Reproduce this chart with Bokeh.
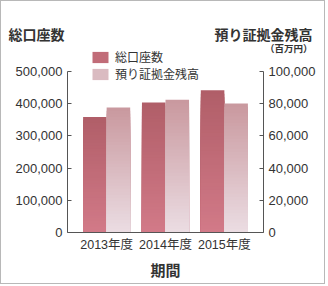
from bokeh.plotting import figure
from bokeh.models import (Range1d, LinearAxis, NumeralTickFormatter, FixedTicker,
                          Label, Legend, LegendItem, ColumnDataSource)
from bokeh.embed import file_html
from bokeh.resources import INLINE

# ---- data ----
periods = ["2013年度", "2014年度", "2015年度"]
accounts = [359000, 404000, 442000]          # 総口座数 (left axis)
margin_balance = [77600, 82400, 80100]       # 預り証拠金残高 (百万円, right axis)
left_ticks = [0, 100000, 200000, 300000, 400000, 500000]
right_ticks = [0, 20000, 40000, 60000, 80000, 100000]
positions = [1, 2, 3]

# ---- layout constants (page pixels) ----
BORDER = 1
W, H = 325, 284
X0, X1 = 0.335, 3.665          # data x at the two value axes
AXL, AXR = 67, 263             # page x of left / right value axes
AXT, AXB = 71, 232             # page y of top tick / zero line
CL, CR = BORDER, BORDER + W    # canvas extent in page pixels
CT, CB = BORDER, BORDER + H
NSEG = 40

def px_x(px):
    return X0 + (px - AXL) / (AXR - AXL) * (X1 - X0)

def px_y(py, top=None):
    top = left_ticks[-1] if top is None else top
    return (AXB - py) / (AXB - AXT) * top

def hex2rgb(h):
    h = h.lstrip("#")
    return [int(h[i:i + 2], 16) for i in (0, 2, 4)]

def mix(c0, c1, t):
    a, b = hex2rgb(c0), hex2rgb(c1)
    return "#%02x%02x%02x" % tuple(int(round(a[i] + (b[i] - a[i]) * t)) for i in range(3))

def gradient(xs, vals, bottom_col, top_col, n=NSEG):
    # overlapping rects, tallest first, so no seams appear
    d = dict(x=[], top=[], color=[])
    for x, v in zip(xs, vals):
        for k in range(n):
            f = (n - k) / n
            d["x"].append(x)
            d["top"].append(v * f)
            d["color"].append(mix(bottom_col, top_col, f - 0.5 / n))
    return ColumnDataSource(d)

p = figure(width=W, height=H,
           x_range=Range1d(px_x(CL), px_x(CR)),
           y_range=Range1d(px_y(CB), px_y(CT)),
           output_backend="svg", toolbar_location=None,
           min_border_left=0, min_border_right=0, min_border_top=0, min_border_bottom=0)
p.styles = {"border": "1px solid #b8b8b8"}
p.extra_y_ranges = {"right": Range1d(px_y(CB, right_ticks[-1]), px_y(CT, right_ticks[-1]))}
p.xgrid.visible = False
p.ygrid.visible = False
p.outline_line_color = None
p.background_fill_color = "white"
p.border_fill_color = "white"

LEFT_BOTTOM, LEFT_TOP = "#d27a88", "#b05e68"
RIGHT_BOTTOM, RIGHT_TOP = "#ebdde3", "#c9989e"

src_l = gradient([x - 0.2 for x in positions], accounts, LEFT_BOTTOM, LEFT_TOP)
src_r = gradient([x + 0.2 for x in positions], margin_balance, RIGHT_BOTTOM, RIGHT_TOP)
rl = p.vbar(x="x", width=0.4, bottom=0, top="top", fill_color="color",
            line_color=None, source=src_l)
rr = p.vbar(x="x", width=0.4, bottom=0, top="top", fill_color="color",
            line_color=None, source=src_r, y_range_name="right")

legend = Legend(items=[LegendItem(label="総口座数", renderers=[rl], index=NSEG // 2),
                       LegendItem(label="預り証拠金残高", renderers=[rr], index=NSEG // 2)],
                location=(90 - CL, CB - 82), orientation="vertical",
                glyph_width=20, glyph_height=14, label_height=14, label_width=10,
                spacing=0, padding=0, margin=0, label_standoff=5,
                label_text_font="'Noto Sans CJK JP'", label_text_font_size="12px",
                label_text_color="#333333", background_fill_alpha=0,
                border_line_color=None)
p.add_layout(legend, "center")

TICK_FONT = "'Liberation Sans', 'Noto Sans CJK JP'"
AX_COL = "#555555"

def style_y(ax, ticks):
    ax.ticker = FixedTicker(ticks=ticks)
    ax.formatter = NumeralTickFormatter(format="0,0")
    ax.bounds = (ticks[0], ticks[-1])
    ax.major_tick_in = 4
    ax.major_tick_out = 0
    ax.minor_tick_line_color = None
    ax.axis_line_color = AX_COL
    ax.major_tick_line_color = AX_COL
    ax.major_label_text_font = TICK_FONT
    ax.major_label_text_font_size = "13px"
    ax.major_label_text_color = "#333333"
    ax.major_label_standoff = 5

ly = p.yaxis[0]
style_y(ly, left_ticks)
ly.fixed_location = X0
raxis = LinearAxis(y_range_name="right", fixed_location=X1)
style_y(raxis, right_ticks)
p.add_layout(raxis, "right")

xa = p.xaxis[0]
xa.fixed_location = 0
xa.bounds = (X0, X1)
xa.ticker = FixedTicker(ticks=positions)
xa.major_label_overrides = {pos: lab for pos, lab in zip(positions, periods)}
xa.major_tick_in = 0
xa.major_tick_out = 0
xa.minor_tick_line_color = None
xa.axis_line_color = AX_COL
xa.major_label_text_font = TICK_FONT
xa.major_label_text_font_size = "12.5px"
xa.major_label_text_color = "#333333"
xa.major_label_standoff = 5
xa.axis_label = "期間"
xa.axis_label_text_font = "'Noto Sans CJK JP'"
xa.axis_label_text_font_style = "bold"
xa.axis_label_text_font_size = "15px"
xa.axis_label_text_color = "#333333"
xa.axis_label_standoff = 4

CJK = "'Noto Sans CJK JP'"
p.add_layout(Label(x=px_x(8), y=px_y(33), text="総口座数", text_font=CJK,
                   text_font_size="14px", text_font_style="bold", text_color="#333333",
                   text_align="left", text_baseline="middle"))
p.add_layout(Label(x=px_x(312), y=px_y(33), text="預り証拠金残高", text_font=CJK,
                   text_font_size="14px", text_font_style="bold", text_color="#333333",
                   text_align="right", text_baseline="middle"))
p.add_layout(Label(x=px_x(312), y=px_y(47), text="（百万円）", text_font=CJK,
                   text_font_size="9.5px", text_font_style="bold", text_color="#333333",
                   text_align="right", text_baseline="middle"))

open("out.html", "w").write(file_html(p, INLINE))
